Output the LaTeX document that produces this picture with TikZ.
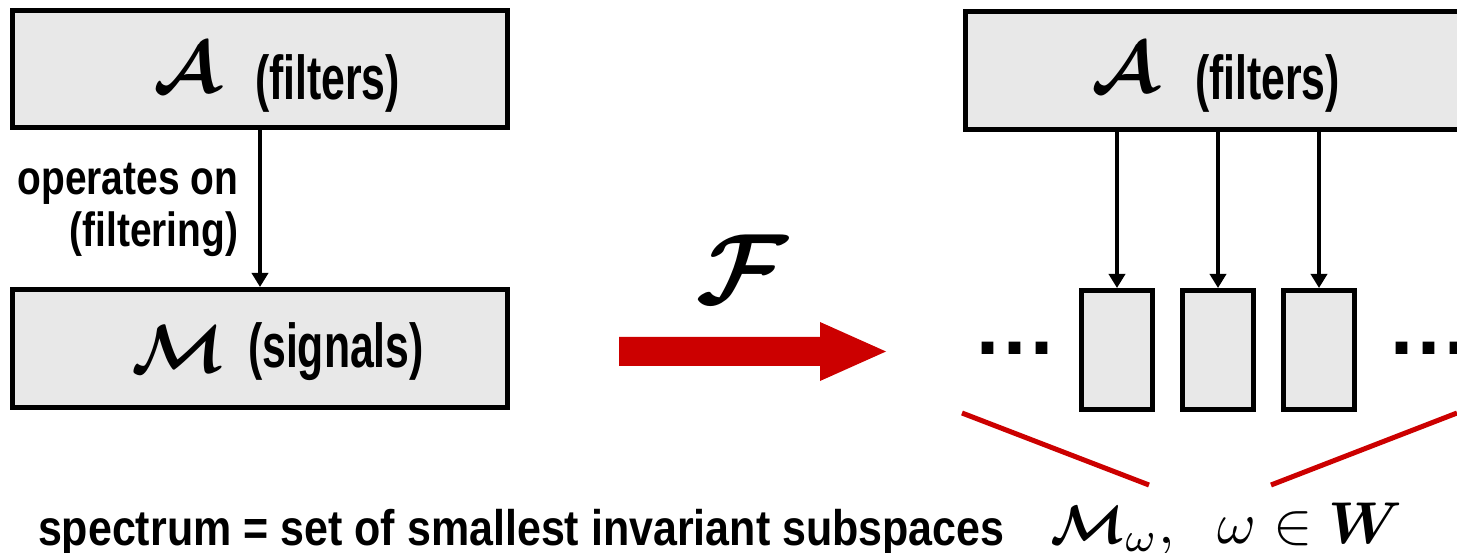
\documentclass[tikz,border=0pt]{standalone}
\usepackage{graphicx}
\usepackage{amsmath,bm}
\usepackage{fontspec}
\newfontfamily\boxfont[FakeStretch=0.69]{Liberation Sans Bold}
\newfontfamily\opfont[FakeStretch=0.81]{Liberation Sans Bold}
\newfontfamily\botfont[FakeStretch=0.86]{Liberation Sans Bold}
\newfontfamily\dotfont{Liberation Sans Bold}
\usetikzlibrary{arrows.meta}
\definecolor{boxgray}{HTML}{E8E8E8}
\definecolor{sred}{HTML}{CC0000}
\newcommand{\mybigmath}[2]{\scalebox{#1}{$#2$}}
\begin{document}
\begin{tikzpicture}[x=1pt,y=-1pt,
  box/.style={draw=black, line width=5pt, fill=boxgray, inner sep=0pt},
  conn/.style={line width=3.5pt, -{Triangle[length=14pt,width=16pt]}},
  redline/.style={draw=sred, line width=5pt},
  lbl/.style={inner sep=0pt, outer sep=0pt}]
\useasboundingbox (0,0) rectangle (1457,553);
\clip (0,0) rectangle (1457,553);
% left boxes
\node[box, minimum width=495pt, minimum height=117pt] (A1) at (260,69) {};
\node[box, minimum width=495pt, minimum height=118pt] (M1) at (260,348.5) {};
\node[lbl, anchor=base west] (A1m) at (153,93) {\mybigmath{7.2}{\bm{\mathcal{A}}}};
\node[lbl, anchor=base west] (A1t) at (255,100) {\boxfont\fontsize{62}{62}\selectfont (filters)};
\node[lbl, anchor=base west] (M1m) at (131,373) {\mybigmath{6.8}{\bm{\mathcal{M}}}};
\node[lbl, anchor=base west] (M1t) at (248,367) {\boxfont\fontsize{62}{62}\selectfont (signals)};
\draw[conn] (A1.south) -- (M1.north);
\node[lbl, anchor=base east] (op1) at (238,195) {\opfont\fontsize{48}{48}\selectfont operates on};
\node[lbl, anchor=base east] (op2) at (238,247) {\opfont\fontsize{48}{48}\selectfont (filtering)};
% transform arrow
\fill[sred] (619,337) -- (820,337) -- (820,322) -- (886,351.5) -- (820,381) -- (820,366) -- (619,366) -- cycle;
\node[lbl] (F) at (742,269) {\mybigmath{10}{\bm{\mathcal{F}}}};
% right side
\node[box, minimum width=494.5pt, minimum height=118pt] (A2) at (1212.75,70.5) {};
\node[lbl, anchor=base west] (A2m) at (1091,93) {\mybigmath{7.2}{\bm{\mathcal{A}}}};
\node[lbl, anchor=base west] (A2t) at (1195,100) {\boxfont\fontsize{62}{62}\selectfont (filters)};
\node[box, minimum width=71pt, minimum height=119pt] (B1) at (1117,350) {};
\node[box, minimum width=71pt, minimum height=119pt] (B2) at (1218,350) {};
\node[box, minimum width=71pt, minimum height=119pt] (B3) at (1319,350) {};
\draw[conn] (B1.north |- A2.south) -- (B1.north);
\draw[conn] (B2.north |- A2.south) -- (B2.north);
\draw[conn] (B3.north |- A2.south) -- (B3.north);
\node[lbl, anchor=base] (dl) at (1015,355) {\dotfont\fontsize{83}{83}\selectfont .\hspace{4pt}.\hspace{4pt}.};
\node[lbl, anchor=base] (dr) at (1429,355) {\dotfont\fontsize{83}{83}\selectfont .\hspace{4pt}.\hspace{4pt}.};
% red brace lines
\coordinate (r1a) at (962,413);
\coordinate (r1b) at (1149,485);
\coordinate (r2a) at (1271,485);
\coordinate (r2b) at (1457,413);
\draw[redline] (r1a) -- (r1b);
\draw[redline] (r2a) -- (r2b);
% bottom text
\node[lbl, anchor=base west] (spec) at (38,545) {\botfont\fontsize{50}{50}\selectfont spectrum = set of smallest invariant subspaces};
\node[lbl, anchor=base west] (mw) at (1050,543) {\mybigmath{5.9}{\scalebox{0.92}{$\bm{\mathcal{M}}$}_\omega,\;\;\omega\in\bm{W}}};
\end{tikzpicture}
\end{document}
